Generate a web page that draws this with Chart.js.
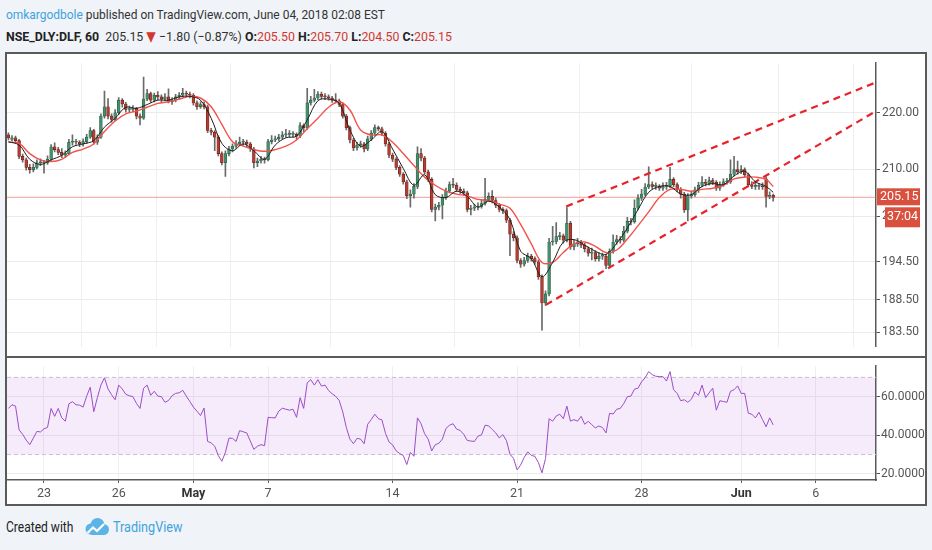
<!DOCTYPE html>
<html>
<head>
<meta charset="utf-8">
<script src="https://cdn.jsdelivr.net/npm/chart.js@4.4.1/dist/chart.umd.min.js"></script>
<style>
  body {
    margin: 0;
    width: 932px;
    height: 550px;
    background: #f0f3f8;
    position: relative;
    overflow: hidden;
    font-family: Roboto, "DejaVu Sans", sans-serif;
    color: #333;
  }
  .line1, .line2 { position: absolute; left: 6px; font-size: 13.5px; line-height: 16px; white-space: nowrap; transform-origin: left center; }
  .line1 { top: 6px; transform: scaleX(0.885); }
  .line2 { top: 28px; transform: scaleX(0.915); }
  .author { color: #3ea3de; }
  .b { font-weight: bold; color: #222; }
  .red { color: #d0392f; }
  #frame {
    position: absolute; left: 5px; top: 52px;
    width: 918px; height: 450px;
    border: 2px solid #5a5a5a; background: #fff;
  }
  #price { position: absolute; left: 0; top: 0; }
  #sep { position: absolute; left: 0; top: 302px; width: 918px; height: 2px; background: #5a5a5a; }
  #rsi { position: absolute; left: 0; top: 304px; }
  .footer { position: absolute; left: 6px; top: 519px; font-size: 14px; line-height: 17px; white-space: nowrap; color: #222; }
  .footer .made { position: absolute; left: 0; top: 0; transform: scaleX(0.86); transform-origin: left center; }
  .footer svg { position: absolute; left: 78px; top: -2px; }
  .footer .tv { position: absolute; left: 107px; top: 0; color: #3ea3de; transform: scaleX(0.9); transform-origin: left center; }
</style>
</head>
<body>
<div class="line1"><span class="author">omkargodbole</span> published on TradingView.com, June 04, 2018 02:08 EST</div>
<div class="line2"><span class="b">NSE_DLY:DLF, 60</span>&nbsp; 205.15 <span class="red">&#9660;</span> &minus;1.80 (&minus;0.87%) <span class="b">O:</span><span class="red">205.50</span> <span class="b">H:</span><span class="red">205.70</span> <span class="b">L:</span><span class="red">204.50</span> <span class="b">C:</span><span class="red">205.15</span></div>

<div id="frame">
  <canvas id="price" width="918" height="302"></canvas>
  <div id="sep"></div>
  <canvas id="rsi" width="918" height="146"></canvas>
</div>

<div class="footer"><span class="made">Created with</span>
  <svg width="26" height="20" viewBox="0 0 26 20">
    <circle cx="7" cy="12" r="5.5" fill="#5ab4e6"/>
    <circle cx="13.5" cy="8" r="7" fill="#5ab4e6"/>
    <circle cx="19.5" cy="12.5" r="5.5" fill="#5ab4e6"/>
    <rect x="7" y="12" width="13" height="6" fill="#5ab4e6"/>
    <polyline points="3.5,16 9,10.5 13,14 20,7" fill="none" stroke="#fff" stroke-width="2.2"/>
  </svg>
  <span class="tv">TradingView</span>
</div>

<script>
// hourly candles, NSE_DLY:DLF, 19 Apr - 4 Jun 2018 (bar 0 = first visible bar)
const openPrices = [
  216.0, 215.2, 215.5, 215.0, 212.2, 211.6, 210.3, 209.9, 210.3, 211.1,
  211.1, 211.1, 211.7, 213.9, 213.4, 212.9, 212.4, 212.7, 214.7, 214.7,
  214.7, 214.4, 214.8, 215.6, 216.8, 214.7, 215.6, 219.4, 221.1, 219.4,
  218.8, 220.0, 222.3, 221.6, 220.6, 220.6, 220.8, 219.4, 219.0, 222.5,
  223.5, 222.3, 223.2, 222.9, 222.5, 222.9, 222.0, 222.3, 222.9, 223.2,
  223.6, 223.4, 223.2, 221.8, 221.1, 221.5, 221.1, 216.8, 216.5, 215.6,
  212.7, 211.1, 212.7, 213.5, 214.0, 214.4, 214.7, 214.7, 214.4, 213.5,
  211.1, 211.4, 211.7, 211.6, 214.8, 215.1, 215.3, 215.6, 216.0, 216.1,
  216.1, 216.1, 215.8, 217.7, 217.3, 221.8, 222.3, 222.7, 223.4, 223.0,
  222.9, 222.7, 222.3, 222.2, 221.5, 219.4, 217.3, 215.1, 213.7, 214.2,
  214.4, 213.5, 215.3, 216.3, 217.3, 217.1, 216.3, 214.4, 212.4, 211.7,
  210.3, 209.1, 207.8, 205.4, 205.7, 207.0, 212.7, 211.9, 209.5, 208.2,
  203.1, 203.5, 203.8, 205.1, 206.2, 207.3, 207.2, 206.5, 206.2, 205.9,
  203.1, 203.3, 203.5, 203.6, 204.1, 204.8, 205.3, 204.6, 203.8, 203.1,
  202.9, 201.3, 199.0, 198.4, 194.7, 194.1, 194.7, 195.4, 195.0, 194.5,
  192.1, 188.0, 189.4, 197.7, 197.8, 198.6, 198.7, 198.0, 200.8, 196.9,
  197.4, 197.7, 197.2, 196.6, 195.9, 196.0, 195.0, 195.4, 195.4, 193.9,
  196.2, 197.7, 198.1, 198.0, 199.5, 201.1, 201.0, 203.3, 205.0, 205.7,
  206.9, 207.3, 207.0, 207.0, 206.7, 207.0, 207.0, 208.2, 207.3, 206.5,
  205.7, 203.0, 205.4, 205.6, 206.4, 207.2, 207.7, 207.5, 208.0, 207.7,
  206.7, 207.3, 207.8, 207.8, 209.1, 209.9, 209.5, 209.9, 209.0, 207.3,
  207.0, 207.0, 207.0, 208.3, 205.3, 205.5
];
const highPrices = [
  216.4, 215.9, 215.8, 215.2, 212.6, 211.9, 210.8, 210.9, 211.6, 211.8,
  211.5, 212.3, 214.3, 214.6, 213.8, 213.6, 213.2, 215.2, 216.0, 215.2,
  215.0, 215.3, 216.1, 217.3, 217.0, 216.0, 219.8, 224.0, 222.6, 219.8,
  220.6, 222.8, 222.6, 221.9, 221.2, 221.3, 221.0, 219.8, 226.6, 224.3,
  223.8, 223.6, 223.9, 223.3, 223.5, 224.4, 222.8, 223.4, 223.7, 224.5,
  224.0, 223.8, 223.5, 222.2, 222.0, 222.0, 221.4, 217.2, 216.8, 215.9,
  213.0, 213.2, 214.0, 214.4, 215.0, 215.6, 215.2, 215.1, 214.7, 213.8,
  211.9, 212.2, 212.1, 215.2, 215.9, 215.8, 216.1, 216.6, 217.0, 216.8,
  216.6, 216.4, 218.2, 218.0, 224.5, 223.0, 224.3, 223.9, 223.8, 223.5,
  223.3, 223.0, 223.5, 222.5, 221.8, 219.7, 217.6, 215.4, 214.7, 214.9,
  214.7, 215.8, 216.8, 217.8, 217.6, 217.4, 216.6, 214.7, 212.8, 212.0,
  210.6, 209.4, 208.1, 206.4, 207.5, 213.9, 213.6, 212.2, 209.8, 208.5,
  204.0, 204.3, 205.6, 206.7, 207.8, 208.4, 207.6, 206.9, 206.6, 206.2,
  203.8, 204.0, 204.2, 204.7, 208.4, 205.9, 206.3, 205.0, 204.1, 203.4,
  203.2, 201.6, 199.4, 198.7, 195.0, 195.2, 195.9, 195.7, 195.3, 194.8,
  192.4, 189.9, 198.3, 200.3, 200.9, 199.3, 199.0, 203.4, 201.1, 198.0,
  198.3, 198.0, 197.5, 196.9, 196.7, 196.3, 196.0, 195.9, 195.7, 196.6,
  198.9, 198.8, 198.6, 200.3, 201.8, 201.6, 204.7, 205.6, 206.5, 207.5,
  210.4, 207.8, 207.6, 207.3, 207.6, 207.7, 210.3, 208.5, 207.6, 206.8,
  206.0, 205.8, 206.2, 206.9, 207.7, 208.7, 208.2, 208.6, 208.4, 208.0,
  207.8, 208.3, 208.4, 211.6, 212.2, 211.4, 210.6, 210.2, 209.3, 207.8,
  207.6, 207.5, 207.6, 208.6, 206.1, 205.7
];
const lowPrices = [
  215.1, 214.9, 214.6, 211.8, 211.2, 209.8, 209.3, 209.5, 210.0, 210.6,
  209.3, 210.8, 211.5, 213.0, 212.5, 212.0, 212.0, 212.5, 214.2, 214.3,
  213.9, 214.0, 214.5, 215.4, 214.4, 214.3, 215.4, 219.0, 218.9, 218.3,
  218.5, 219.7, 221.0, 220.1, 220.0, 220.2, 218.9, 217.8, 218.8, 222.2,
  221.9, 222.0, 222.4, 222.0, 222.2, 221.8, 221.5, 222.0, 222.5, 223.0,
  222.9, 222.7, 221.4, 220.6, 220.8, 220.7, 216.4, 216.0, 213.2, 212.3,
  210.7, 208.7, 212.3, 213.0, 213.6, 214.1, 214.2, 213.9, 213.1, 210.2,
  210.4, 211.0, 211.0, 211.4, 214.4, 214.8, 215.0, 215.3, 215.6, 215.6,
  215.6, 215.2, 215.5, 216.6, 217.0, 221.4, 222.0, 222.4, 222.6, 222.4,
  222.3, 221.9, 221.8, 221.1, 219.0, 216.9, 214.6, 213.2, 213.3, 213.8,
  213.0, 213.2, 215.0, 216.0, 216.7, 215.9, 214.0, 212.0, 211.3, 209.9,
  208.7, 207.4, 204.9, 203.5, 205.0, 206.6, 211.4, 209.1, 207.8, 202.7,
  201.2, 203.0, 201.5, 204.8, 205.9, 206.8, 206.1, 205.8, 205.5, 202.7,
  202.2, 202.9, 203.0, 203.3, 203.8, 204.5, 204.2, 203.4, 202.7, 202.4,
  200.9, 195.5, 197.9, 194.3, 193.6, 193.8, 194.4, 194.6, 194.1, 191.7,
  183.8, 187.6, 189.1, 197.2, 197.4, 198.1, 197.5, 197.7, 196.5, 196.4,
  197.0, 196.8, 196.1, 195.4, 194.8, 194.6, 194.6, 194.9, 193.4, 193.6,
  195.9, 197.3, 197.5, 197.7, 199.2, 200.5, 200.8, 203.0, 204.6, 205.4,
  206.6, 206.6, 206.5, 206.3, 206.3, 206.5, 206.8, 206.9, 206.1, 205.0,
  202.6, 201.2, 205.0, 205.3, 206.0, 206.9, 207.1, 207.2, 207.3, 206.3,
  206.3, 207.0, 207.4, 207.5, 208.8, 209.1, 209.2, 208.6, 206.9, 206.6,
  206.5, 206.5, 206.5, 203.5, 204.9, 204.5
];
const closePrices = [
  215.5, 215.5, 215.0, 212.2, 211.6, 210.3, 209.9, 210.3, 211.1, 211.1,
  211.1, 211.7, 213.9, 213.4, 212.9, 212.4, 212.7, 214.7, 214.7, 214.7,
  214.4, 214.8, 215.6, 216.8, 214.7, 215.6, 219.4, 221.1, 219.4, 218.8,
  220.0, 222.3, 221.6, 220.6, 220.6, 220.8, 219.4, 219.0, 222.5, 223.5,
  222.3, 223.2, 222.9, 222.5, 222.9, 222.0, 222.3, 222.9, 223.2, 223.6,
  223.4, 223.2, 221.8, 221.1, 221.5, 221.1, 216.8, 216.5, 215.6, 212.7,
  211.1, 212.7, 213.5, 214.0, 214.4, 214.7, 214.7, 214.4, 213.5, 211.1,
  211.4, 211.7, 211.6, 214.8, 215.1, 215.3, 215.6, 216.0, 216.1, 216.1,
  216.1, 215.8, 217.7, 217.3, 221.8, 222.3, 222.7, 223.4, 223.0, 222.9,
  222.7, 222.3, 222.2, 221.5, 219.4, 217.3, 215.1, 213.7, 214.2, 214.4,
  213.5, 215.3, 216.3, 217.3, 217.1, 216.3, 214.4, 212.4, 211.7, 210.3,
  209.1, 207.8, 205.4, 205.7, 207.0, 212.7, 211.9, 209.5, 208.2, 203.1,
  203.5, 203.8, 205.1, 206.2, 207.3, 207.2, 206.5, 206.2, 205.9, 203.1,
  203.3, 203.5, 203.6, 204.1, 204.8, 205.3, 204.6, 203.8, 203.1, 202.9,
  201.3, 199.0, 198.4, 194.7, 194.1, 194.7, 195.4, 195.0, 194.5, 192.1,
  188.0, 189.4, 197.7, 197.8, 198.6, 198.7, 198.0, 200.8, 196.9, 197.4,
  197.7, 197.2, 196.6, 195.9, 196.0, 195.0, 195.4, 195.4, 193.9, 196.2,
  197.7, 198.1, 198.0, 199.5, 201.1, 201.0, 203.3, 205.0, 205.7, 206.9,
  207.3, 207.0, 207.0, 206.7, 207.0, 207.0, 208.2, 207.3, 206.5, 205.7,
  203.0, 205.4, 205.6, 206.4, 207.2, 207.7, 207.5, 208.0, 207.7, 206.7,
  207.3, 207.8, 207.8, 209.1, 209.9, 209.5, 209.9, 209.0, 207.3, 207.0,
  207.0, 207.0, 206.95, 205.3, 205.5, 205.15
];

// moving averages at every third bar
const maBars = [
  0, 3, 6, 9, 12, 15, 18, 21, 24, 27, 30, 33, 36, 39, 42, 45, 48, 51, 54, 57,
  60, 63, 66, 69, 72, 75, 78, 81, 84, 87, 90, 93, 96, 99, 102, 105, 108, 111, 114, 117,
  120, 123, 126, 129, 132, 135, 138, 141, 144, 147, 150, 153, 156, 159, 162, 165, 168, 171, 174, 177,
  180, 183, 186, 189, 192, 195, 198, 201, 204, 207, 210, 213, 215
];
const fastMa = [
  214.8, 214.2, 211.7, 210.8, 211.6, 212.4, 213.9, 214.4, 215.0, 217.4,
  219.0, 221.0, 220.8, 221.5, 222.3, 222.3, 222.9, 223.0, 222.3, 219.0,
  214.5, 213.2, 214.4, 213.2, 211.7, 214.2, 215.5, 215.8, 218.7, 222.2,
  222.5, 221.7, 216.9, 214.0, 215.1, 216.6, 213.5, 210.1, 207.2, 209.0,
  205.6, 205.1, 206.2, 205.3, 203.5, 204.5, 203.5, 201.4, 196.2, 195.0,
  192.1, 194.4, 197.7, 198.1, 197.2, 196.2, 195.7, 197.5, 200.0, 203.1,
  206.0, 207.0, 207.0, 205.7, 205.6, 207.0, 207.5, 207.3, 208.8, 209.6,
  207.8, 207.0, 206.0
];
const slowMa = [
  214.7, 214.5, 212.7, 211.6, 211.3, 211.7, 212.9, 213.5, 214.4, 216.6,
  218.5, 219.8, 220.3, 221.0, 221.7, 222.0, 222.5, 223.0, 222.7, 221.1,
  217.9, 214.8, 214.0, 213.4, 213.1, 213.4, 214.0, 215.1, 217.1, 219.0,
  221.0, 222.0, 220.5, 216.9, 216.0, 216.0, 214.7, 212.7, 210.6, 208.6,
  207.2, 206.2, 205.7, 205.4, 204.8, 204.6, 204.0, 203.3, 200.6, 197.4,
  194.4, 194.4, 196.0, 197.4, 197.7, 197.0, 196.0, 196.4, 198.2, 200.4,
  202.7, 205.1, 206.5, 206.5, 206.2, 206.5, 206.7, 207.2, 208.3, 208.6,
  208.6, 208.2, 207.0
];

// RSI(14) per bar
const rsiValues = [
  53.9, 55.8, 55.1, 42.8, 40.5, 37.5, 35.1, 38.5, 42.0, 41.7,
  43.3, 44.1, 53.9, 49.8, 53.9, 49.0, 47.3, 56.3, 57.4, 55.8,
  55.6, 54.6, 60.3, 64.9, 52.2, 59.5, 66.0, 69.8, 64.0, 61.0,
  58.4, 66.0, 64.0, 61.2, 60.5, 60.0, 56.5, 53.9, 64.4, 66.0,
  60.7, 62.8, 60.3, 60.0, 57.1, 58.0, 60.5, 61.7, 62.0, 63.3,
  60.3, 57.5, 54.6, 52.5, 50.2, 54.1, 36.8, 36.0, 34.3, 29.5,
  26.5, 31.1, 38.5, 38.4, 36.8, 42.4, 41.8, 41.2, 37.0, 32.7,
  34.3, 35.1, 34.6, 49.3, 49.1, 49.0, 52.5, 54.0, 53.5, 53.0,
  53.5, 49.3, 59.5, 53.9, 67.2, 68.8, 66.0, 68.8, 65.5, 66.0,
  63.2, 61.5, 60.2, 58.0, 52.0, 44.0, 38.0, 35.6, 38.4, 38.0,
  35.6, 45.7, 48.1, 50.9, 48.6, 48.0, 41.0, 36.5, 35.0, 31.9,
  30.5, 29.5, 24.8, 31.1, 29.1, 49.0, 46.0, 40.8, 38.0, 31.9,
  35.1, 35.8, 38.0, 43.5, 45.2, 46.0, 43.2, 42.5, 40.5, 37.3,
  37.0, 36.8, 39.5, 40.2, 45.2, 44.9, 43.0, 41.2, 38.6, 40.3,
  37.3, 30.2, 28.0, 22.1, 24.6, 28.5, 31.4, 29.5, 29.1, 25.8,
  20.5, 28.0, 48.6, 47.3, 50.0, 50.9, 48.6, 55.1, 47.3, 48.1,
  47.3, 49.8, 45.7, 47.2, 45.5, 43.8, 44.8, 44.0, 41.2, 51.4,
  51.0, 53.5, 53.9, 56.5, 60.0, 60.3, 63.9, 64.4, 67.7, 69.8,
  73.0, 71.4, 70.6, 70.4, 70.4, 68.1, 73.0, 63.6, 61.7, 57.9,
  58.4, 57.1, 58.7, 62.5, 60.7, 66.0, 59.5, 62.0, 64.4, 53.0,
  57.9, 57.5, 57.1, 62.8, 63.6, 65.6, 61.7, 61.7, 51.4, 50.9,
  49.0, 51.9, 48.1, 44.4, 49.0, 45.4
];

// drawn trend channel (bar, price) end points
const upperChannelBars = [156.8, 243.9];
const upperChannelPrices = [203.6, 225.6];
const lowerChannelBars = [151.1, 243.9];
const lowerChannelPrices = [187.7, 220.3];

// time axis: first bar of each labelled day
const dayTickBars = [10, 31, 52, 73, 108, 143, 178, 206, 227];
const dayTickLabels = ['23', '26', 'May', '7', '14', '21', '28', 'Jun', '6'];

const priceTicks = [183.5, 188.5, 194.5, 202, 210, 220];
const rsiTicks = [20, 40, 60];
const rsiBand = [30, 70];
const countdownLabel = '37:04';

const FONT = 'Roboto, "DejaVu Sans", sans-serif';
Chart.defaults.font.family = FONT;
Chart.defaults.font.size = 12;
Chart.defaults.color = '#555';

const X_MIN = -0.4, X_MAX = 243.9;
const AXIS_W = 49;
const UP = '#45906c', DOWN = '#b43d31';
const UP_EDGE = '#245a40', DOWN_EDGE = '#6a1d14';

const lastClose = closePrices[closePrices.length - 1];

const wickData = closePrices.map((c, i) => ({ x: i, y: [lowPrices[i], highPrices[i]] }));
const bodyData = closePrices.map((c, i) => ({ x: i, y: [Math.min(openPrices[i], c), Math.max(openPrices[i], c)] }));
const isUp = i => closePrices[i] >= openPrices[i];

const dayTicks = axis => { axis.ticks = dayTickBars.map(v => ({ value: v })); };

const lastPricePlugin = {
    id: 'lastPrice',
    beforeDatasetsDraw(chart) {
        const {ctx, chartArea} = chart;
        const y = chart.scales.y.getPixelForValue(lastClose);
        ctx.save();
        ctx.strokeStyle = 'rgba(226, 95, 85, 0.6)';
        ctx.lineWidth = 1;
        ctx.beginPath();
        ctx.moveTo(chartArea.left, y);
        ctx.lineTo(chartArea.right, y);
        ctx.stroke();
        ctx.restore();
    },
    afterDraw(chart) {
        const {ctx, chartArea} = chart;
        const y = chart.scales.y.getPixelForValue(lastClose);
        const x = chartArea.right + 1;
        ctx.save();
        ctx.fillStyle = '#d9503e';
        ctx.fillRect(x, y - 9, 43, 17);
        ctx.fillRect(x + 8, y + 10, 35, 20);
        ctx.fillStyle = '#fff';
        ctx.font = '12.5px ' + FONT;
        ctx.textBaseline = 'middle';
        ctx.fillText(lastClose.toFixed(2), x + 3, y);
        ctx.fillText(countdownLabel, x + 10, y + 20);
        ctx.restore();
    }
};

const rsiBandPlugin = {
    id: 'rsiBand',
    beforeDatasetsDraw(chart) {
        const {ctx, chartArea} = chart;
        const yTop = chart.scales.y.getPixelForValue(rsiBand[1]);
        const yBot = chart.scales.y.getPixelForValue(rsiBand[0]);
        ctx.save();
        ctx.fillStyle = 'rgba(160, 70, 220, 0.11)';
        ctx.fillRect(chartArea.left, yTop, chartArea.right - chartArea.left, yBot - yTop);
        ctx.strokeStyle = '#c9bed1';
        ctx.lineWidth = 1;
        ctx.setLineDash([4, 3]);
        [yTop, yBot].forEach(y => {
            ctx.beginPath();
            ctx.moveTo(chartArea.left, y);
            ctx.lineTo(chartArea.right, y);
            ctx.stroke();
        });
        ctx.restore();
    }
};

new Chart(document.getElementById('price'), {
    type: 'bar',
    data: {
        datasets: [
            {
                type: 'line', label: 'fast MA',
                data: maBars.map((b, i) => ({ x: b, y: fastMa[i] })),
                borderColor: '#1e1e1e', borderWidth: 1, pointRadius: 0, tension: 0.35, order: 0
            },
            {
                type: 'line', label: 'slow MA',
                data: maBars.map((b, i) => ({ x: b, y: slowMa[i] })),
                borderColor: '#f2524c', borderWidth: 1.4, pointRadius: 0, tension: 0.35, order: 0
            },
            {
                type: 'line', label: 'upper channel',
                data: upperChannelBars.map((b, i) => ({ x: b, y: upperChannelPrices[i] })),
                borderColor: '#e8212a', borderWidth: 2.2, borderDash: [7, 5], pointRadius: 0, order: 0
            },
            {
                type: 'line', label: 'lower channel',
                data: lowerChannelBars.map((b, i) => ({ x: b, y: lowerChannelPrices[i] })),
                borderColor: '#e8212a', borderWidth: 2.2, borderDash: [7, 5], pointRadius: 0, order: 0
            },
            {
                label: 'bodies', data: bodyData,
                backgroundColor: c => isUp(c.dataIndex) ? UP : DOWN,
                borderColor: c => isUp(c.dataIndex) ? UP_EDGE : DOWN_EDGE,
                borderWidth: 0.6, borderSkipped: false,
                barThickness: 2.8, minBarLength: 1, grouped: false, order: 1
            },
            {
                label: 'wicks', data: wickData,
                backgroundColor: '#6a6a6a', barThickness: 1, grouped: false, order: 2
            }
        ]
    },
    options: {
        responsive: false,
        animation: false,
        layout: { padding: 0 },
        plugins: { legend: { display: false }, tooltip: { enabled: false } },
        scales: {
            x: {
                type: 'linear', min: X_MIN, max: X_MAX, offset: false,
                afterBuildTicks: dayTicks,
                afterFit: s => { s.height = 0; },
                ticks: { display: false },
                grid: { color: '#efefef', drawTicks: false },
                border: { display: false }
            },
            y: {
                type: 'logarithmic', position: 'right', min: 181.3, max: 229.2,
                afterBuildTicks: s => { s.ticks = priceTicks.map(v => ({ value: v })); },
                afterFit: s => { s.width = AXIS_W; },
                ticks: { callback: v => Number(v).toFixed(2), color: '#555', padding: 2, autoSkip: false },
                grid: { color: '#ebebeb', tickColor: '#555', tickLength: 4 },
                border: { color: '#5a5a5a', width: 1.5 }
            }
        }
    },
    plugins: [lastPricePlugin]
});

new Chart(document.getElementById('rsi'), {
    type: 'line',
    data: {
        datasets: [{
            label: 'RSI',
            data: rsiValues.map((v, i) => ({ x: i, y: v })),
            borderColor: '#9b4ec6', borderWidth: 1, pointRadius: 0, tension: 0
        }]
    },
    options: {
        responsive: false,
        animation: false,
        layout: { padding: 0 },
        plugins: { legend: { display: false }, tooltip: { enabled: false } },
        scales: {
            x: {
                type: 'linear', min: X_MIN, max: X_MAX, offset: false,
                afterBuildTicks: dayTicks,
                afterFit: s => { s.height = 24; },
                ticks: {
                    callback: (v, i) => dayTickLabels[i],
                    autoSkip: false, maxRotation: 0, padding: 3,
                    color: c => isNaN(dayTickLabels[c.index]) ? '#333' : '#555',
                    font: c => ({ size: 12.5, weight: isNaN(dayTickLabels[c.index]) ? 'bold' : 'normal' })
                },
                grid: { color: '#efefef', tickColor: '#5a5a5a', tickLength: 3 },
                border: { color: '#5a5a5a', width: 1.5 }
            },
            y: {
                position: 'right', min: 16.8, max: 75.8,
                afterBuildTicks: s => { s.ticks = rsiTicks.map(v => ({ value: v })); },
                afterFit: s => { s.width = AXIS_W; },
                ticks: { callback: v => Number(v).toFixed(4), color: '#555', padding: 1, autoSkip: false },
                grid: { color: '#ececec', tickColor: '#555', tickLength: 4 },
                border: { color: '#5a5a5a', width: 1.5 }
            }
        }
    },
    plugins: [rsiBandPlugin]
});
</script>
</body>
</html>
